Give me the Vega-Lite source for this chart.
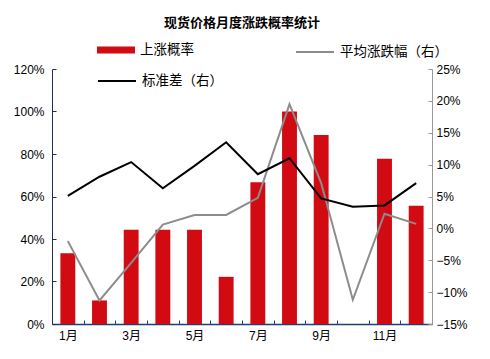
{
  "$schema": "https://vega.github.io/schema/vega-lite/v6.json",
  "width": 380,
  "height": 255,
  "autosize": {"type": "none"},
  "padding": {"left": 52, "top": 69, "right": 58, "bottom": 35},
  "background": "white",
  "title": {
    "text": "现货价格月度涨跌概率统计",
    "font": "Liberation Sans, Noto Sans CJK SC",
    "fontSize": 13,
    "fontWeight": "bold",
    "color": "#000000",
    "anchor": "middle",
    "offset": 1
  },
  "config": {
    "view": {"stroke": null},
    "font": "Liberation Sans, Noto Sans CJK SC",
    "legend": {"padding": 0, "labelFontSize": 13.5, "labelColor": "#000000", "labelFont": "Liberation Sans, Noto Sans CJK SC", "labelOffset": 5}
  },
  "data": {
    "values": [
      {"month": "1月", "up": 0.333, "avg": -0.020, "std": 0.051},
      {"month": "2月", "up": 0.111, "avg": -0.113, "std": 0.081},
      {"month": "3月", "up": 0.444, "avg": -0.054, "std": 0.104},
      {"month": "4月", "up": 0.444, "avg": 0.006, "std": 0.063},
      {"month": "5月", "up": 0.444, "avg": 0.021, "std": 0.098},
      {"month": "6月", "up": 0.222, "avg": 0.021, "std": 0.135},
      {"month": "7月", "up": 0.667, "avg": 0.048, "std": 0.085},
      {"month": "8月", "up": 1.0, "avg": 0.195, "std": 0.110},
      {"month": "9月", "up": 0.889, "avg": 0.071, "std": 0.047},
      {"month": "10月", "up": 0.0, "avg": -0.112, "std": 0.034},
      {"month": "11月", "up": 0.778, "avg": 0.023, "std": 0.036},
      {"month": "12月", "up": 0.556, "avg": 0.007, "std": 0.071}
    ]
  },
  "layer": [
    {
      "mark": {"type": "bar", "width": {"band": 0.47}},
      "encoding": {
        "x": {
          "field": "month", "type": "ordinal", "sort": null,
          "scale": {"paddingInner": 0, "paddingOuter": 0},
          "axis": {
            "title": null, "labelAngle": 0, "labelFontSize": 12, "labelColor": "#000000",
            "labelExpr": "indexof(['1月','3月','5月','7月','9月','11月'], datum.value) >= 0 ? datum.value : ''",
            "domainColor": "#1f3f6f", "domainWidth": 1.5, "tickColor": "#1f3f6f",
            "tickBand": "extent", "tickSize": -4, "labelPadding": 10
          }
        },
        "y": {
          "field": "up", "type": "quantitative",
          "scale": {"domain": [0, 1.2], "nice": false},
          "axis": {
            "title": null, "format": ".0%", "values": [0, 0.2, 0.4, 0.6, 0.8, 1.0, 1.2],
            "grid": false, "labelFontSize": 12, "labelColor": "#000000",
            "domainColor": "#1f2f4f", "tickColor": "#1f2f4f", "tickSize": -4, "labelPadding": 12
          }
        },
        "fill": {
          "datum": "上涨概率", "type": "nominal",
          "scale": {"range": ["#d20a11"]},
          "legend": {
            "title": null, "orient": "none", "legendX": 45, "legendY": -38,
            "symbolType": "M-1,-0.18H1V0.18H-1Z", "symbolSize": 1444, "symbolStrokeWidth": 0
          }
        }
      }
    },
    {
      "mark": {"type": "line", "strokeWidth": 2},
      "encoding": {
        "x": {"field": "month", "type": "ordinal", "sort": null},
        "y": {
          "field": "avg", "type": "quantitative",
          "scale": {"domain": [-0.15, 0.25], "nice": false},
          "axis": {
            "orient": "right", "title": null, "format": ".0%",
            "values": [-0.15, -0.1, -0.05, 0, 0.05, 0.1, 0.15, 0.2, 0.25],
            "grid": false, "labelFontSize": 12, "labelColor": "#000000",
            "domainColor": "#999999", "tickColor": "#999999", "tickSize": -4, "labelPadding": 8
          }
        },
        "stroke": {
          "datum": "平均涨跌幅（右）", "type": "nominal",
          "scale": {"range": ["#8c8c8c"]},
          "legend": {
            "title": null, "orient": "none", "legendX": 243, "legendY": -37,
            "symbolType": "stroke", "symbolSize": 1444, "symbolStrokeWidth": 2
          }
        }
      }
    },
    {
      "mark": {"type": "line", "strokeWidth": 2},
      "encoding": {
        "x": {"field": "month", "type": "ordinal", "sort": null},
        "y": {
          "field": "std", "type": "quantitative",
          "scale": {"domain": [-0.15, 0.25], "nice": false},
          "axis": null
        },
        "stroke": {
          "datum": "标准差（右）", "type": "nominal",
          "scale": {"range": ["#000000"]},
          "legend": {
            "title": null, "orient": "none", "legendX": 45, "legendY": -8,
            "symbolType": "stroke", "symbolSize": 1444, "symbolStrokeWidth": 2
          }
        }
      }
    }
  ],
  "resolve": {"scale": {"y": "independent", "stroke": "independent"}}
}
